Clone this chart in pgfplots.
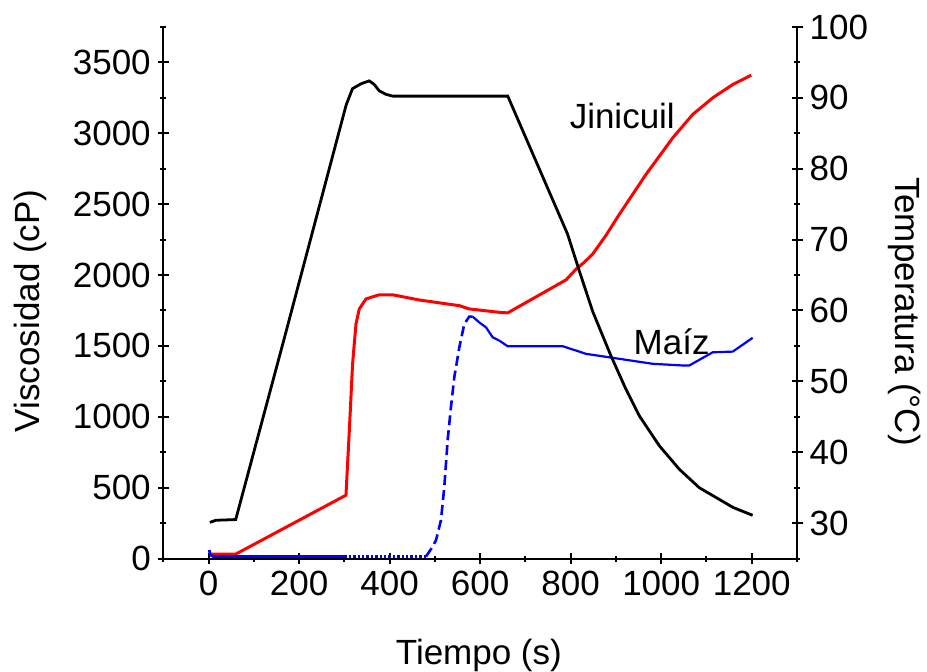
\documentclass[border=0pt]{standalone}
\usepackage{fontspec}
\setmainfont{Liberation Sans}
\usepackage{pgfplots}
\pgfplotsset{compat=1.18}

\newcommand{\chartfont}{\fontsize{17.5}{20}\selectfont}

\pgfplotsset{
  common/.style={
    width=316.9pt, height=265.8pt, scale only axis,
    xmin=-100, xmax=1300,
    tick align=outside,
    major tick length=5.5pt, minor tick length=3pt,
    tick style={line width=1pt, black},
    tick label style={font=\chartfont},
    label style={font=\chartfont},
    /pgf/number format/assume math mode=true,
    /pgf/number format/1000 sep={},
  },
  nolinearrows/.style={
    axis line style={-, line width=1pt},
    every outer x axis line/.append style={-},
    every outer y axis line/.append style={-},
  }
}

\begin{document}
\begin{tikzpicture}
\begin{axis}[common, name=ax,
    axis x line=bottom, axis y line=left, nolinearrows,
    ymin=0, ymax=3750,
    xtick={0,200,...,1200}, minor xtick={-100,100,...,1300},
    ytick={0,500,...,3500}, minor ytick={250,750,...,3750},
    xlabel={Tiempo (s)},
    ylabel={Viscosidad (cP)},
    xlabel style={at={(axis description cs:0.498,-0.182)}, anchor=center, font=\chartfont},
    ylabel style={at={(axis description cs:-0.210,0.466)}, anchor=center, font=\chartfont},
]
% Jinicuil
\addplot[red, line width=1.5pt] coordinates {
  (1.5,32) (60.5,32) (303.6,447) (311,904) (318.2,1374) (325.7,1655)
  (333,1761) (347.6,1831) (377.2,1861) (406.6,1861) (465.6,1824)
  (554,1784) (576,1761) (642.6,1737) (660.8,1733) (789.8,1966)
  (812,2042) (830,2090) (848.6,2148) (878,2280) (907.6,2429) (966.6,2711)
  (1025.5,2968) (1069.6,3133) (1113.8,3250) (1158,3344) (1198.7,3410)
};
% Maiz
\addplot[blue, line width=1.4pt] coordinates {
  (1.5,60) (4,25) (10,15) (300,15)
};
\addplot[blue, line width=1.2pt, densely dotted] coordinates {
  (300,15) (480.4,15)
};
\addplot[blue, line width=1.3pt, dash pattern=on 5pt off 2.5pt] coordinates {
  (480.4,15) (495,83) (502.5,130) (513.5,271) (520.8,505) (528.2,834)
  (535.5,1068) (542.9,1279) (554,1490) (565,1655) (576,1707) (583.4,1707)
};
\addplot[blue, line width=1.1pt] coordinates {
  (583.4,1707) (598,1666) (613,1631) (627.6,1561) (642.5,1537)
  (660.8,1498) (782.3,1498) (834,1444) (893,1416) (981,1374)
  (1047.5,1362) (1062,1362) (1113.8,1455) (1158,1460) (1202,1557)
};
\node[font=\chartfont] at (axis cs:914,3121) {Jinicuil};
\node[font=\chartfont] at (axis cs:1023,1530) {Maíz};
\end{axis}

\begin{axis}[common,
    axis x line=none, axis y line=right, nolinearrows,
    ymin=25, ymax=100,
    ytick={30,40,...,100}, minor ytick={25,35,...,95},
    ylabel={Temperatura (°C)},
    ylabel style={at={(axis description cs:1.170,0.465)}, anchor=center, rotate=180, font=\chartfont},
]
\addplot[black, line width=1.4pt] coordinates {
  (3,30.1) (16,30.4) (60,30.5) (167,56.0) (304,89.0) (318,91.3)
  (337,92.0) (355,92.4) (366,91.9) (377,91.0) (392,90.5) (407,90.25)
  (661,90.25) (793,70.8) (820,65.4) (849,59.8) (889,53.6) (922,48.9)
  (952,45.1) (996,40.9) (1040,37.6) (1084,35.0) (1159,32.2) (1202,31.1)
};
\end{axis}

\pgfresetboundingbox
\path[use as bounding box] ([xshift=-81.65pt,yshift=-56.25pt]ax.south west)
  rectangle ([xshift=65pt,yshift=13.5pt]ax.north east);
\end{tikzpicture}
\end{document}
